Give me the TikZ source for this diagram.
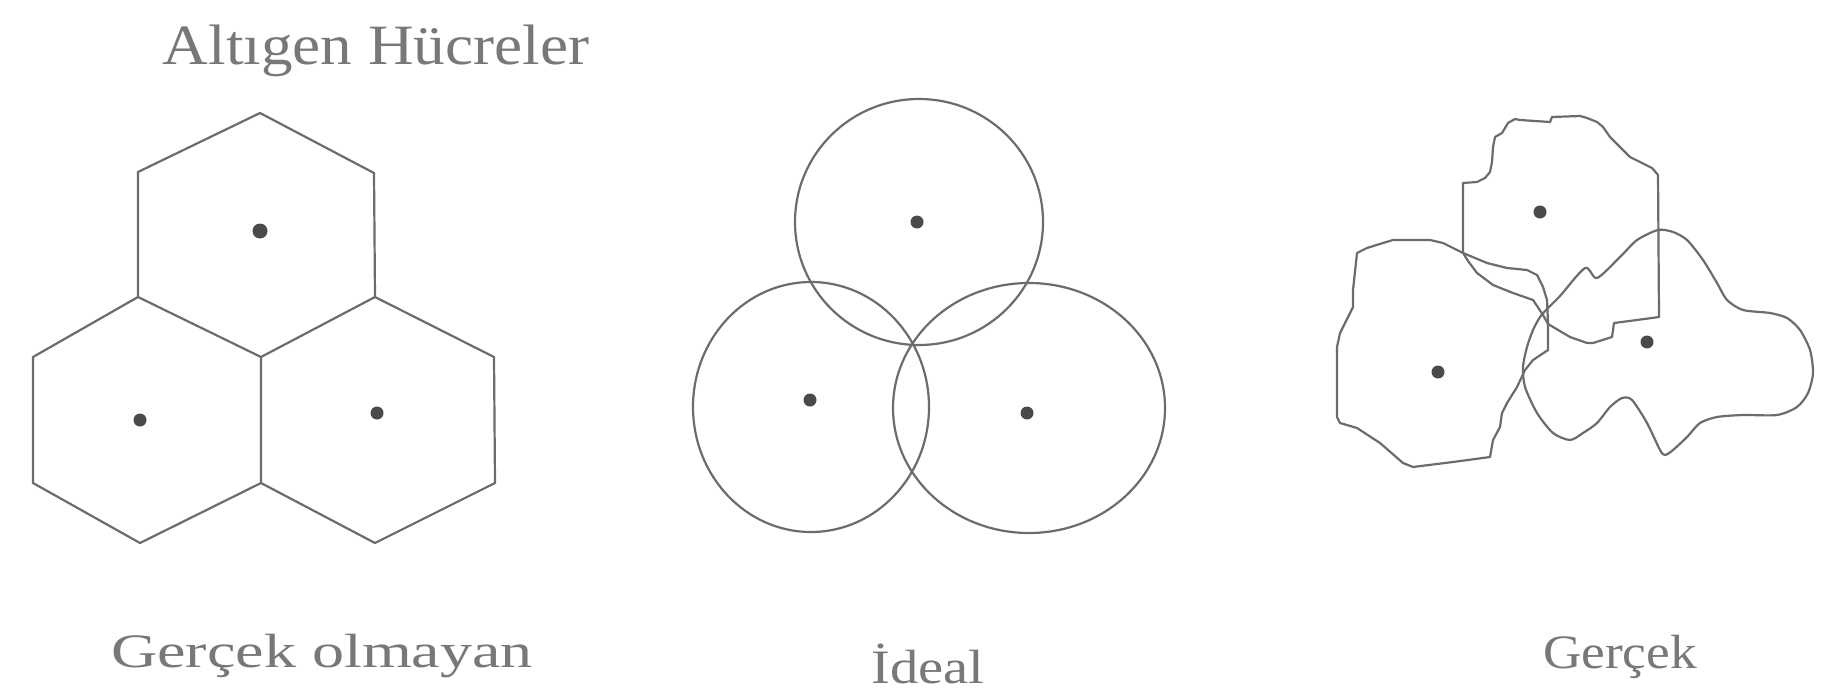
\documentclass[tikz,border=0pt]{standalone}
\usepackage{graphicx}
\usepackage{fontspec}
\setmainfont{Liberation Serif}
\definecolor{linegray}{HTML}{6C6C6C}
\definecolor{dotgray}{HTML}{4A4A4A}
\definecolor{textgray}{HTML}{787876}
\begin{document}
\begin{tikzpicture}[x=1pt,y=-1pt,
  cell/.style={draw=linegray,line width=2.2pt,line join=round},
  dot/.style={circle,fill=dotgray,inner sep=0pt,minimum size=13pt},
  lbl/.style={anchor=base,inner sep=0pt,text=textgray},
  bigfont/.style={font=\fontsize{57}{60}\selectfont},
  smallfont/.style={font=\fontsize{48}{50}\selectfont}]
\fill[white] (0,0) rectangle (1835,693);
\useasboundingbox (0,0) rectangle (1835,693);

% ---- title ----
\node[lbl,bigfont] (title) at (376,65) {\resizebox{426pt}{\height}{Altıgen Hücreler}};

% ---- hexagons ----
\coordinate (t1) at (260,113);
\coordinate (t2) at (138,172);
\coordinate (t3) at (374,173);
\coordinate (t4) at (138,297);
\coordinate (t5) at (375,297);
\coordinate (t6) at (261,357);
\coordinate (ha) at (33,357);
\coordinate (hb) at (33,483);
\coordinate (hc) at (140,543);
\coordinate (hd) at (261,483);
\coordinate (he) at (494,357);
\coordinate (hf) at (495,483);
\coordinate (hg) at (375,543);
\draw[cell] (t1) -- (t3) -- (t5) -- (t6) -- (t4) -- (t2) -- cycle;
\draw[cell] (t4) -- (ha) -- (hb) -- (hc) -- (hd) -- (t6);
\draw[cell] (t5) -- (he) -- (hf) -- (hg) -- (hd);
\node[dot,minimum size=15pt] (hx1) at (260,231) {};
\node[dot] (hx2) at (140,420) {};
\node[dot] (hx3) at (377,413) {};

% ---- ideal circles ----
\draw[cell] (919,222) ellipse [x radius=124pt, y radius=123pt];
\draw[cell] (811,407) ellipse [x radius=118pt, y radius=125pt];
\draw[cell] (1029,408) ellipse [x radius=136pt, y radius=125pt];
\node[dot] (c1) at (917,222) {};
\node[dot] (c2) at (810,400) {};
\node[dot] (c3) at (1027,413) {};

% ---- real cells ----
% top cell
\draw[cell] (1463,183) -- (1477,182) -- (1485,178) -- (1490,172) -- (1492,162)
  -- (1493,147) -- (1495,137) -- (1502,133) -- (1505,128) -- (1508,123)
  -- (1515,119) -- (1520,120) -- (1550,122) -- (1552,117) -- (1580,116)
  -- (1587,118) -- (1597,122) -- (1603,127) -- (1610,137) -- (1620,147)
  -- (1630,157) -- (1640,162) -- (1652,168) -- (1658,175) -- (1659,317)
  -- (1637,320) -- (1614,323) -- (1612,337) -- (1593,343) -- (1587,343)
  -- (1570,337) -- (1548,324) -- (1543,315) -- (1533,300) -- (1513,293)
  -- (1493,285) -- (1477,273) -- (1468,261) -- (1463,253) -- cycle;
% left cell
\draw[cell] (1357,253) -- (1367,248) -- (1383,243) -- (1393,240) -- (1430,240)
  -- (1443,243) -- (1463,253) -- (1487,263) -- (1507,268) -- (1527,270)
  -- (1537,275) -- (1543,287) -- (1547,300) -- (1548,323) -- (1548,350)
  -- (1533,360) -- (1525,370) -- (1517,387) -- (1507,403) -- (1502,413)
  -- (1500,427) -- (1493,440) -- (1490,457) -- (1453,462) -- (1413,467)
  -- (1403,463) -- (1380,443) -- (1357,428) -- (1340,423) -- (1337,417)
  -- (1337,347) -- (1340,333) -- (1353,307) -- (1353,290) -- cycle;
% right cell
\draw[cell] plot[smooth cycle,tension=0.45] coordinates {
  (1560,296) (1585,268) (1597,278) (1620,257) (1637,240) (1658,230) (1673,232)
  (1687,240) (1703,260) (1717,283) (1727,300) (1743,310) (1770,313) (1787,318)
  (1800,330) (1810,350) (1813,373) (1808,393) (1797,407) (1777,415) (1743,415)
  (1717,417) (1700,423) (1687,437) (1673,450) (1665,455) (1660,450) (1647,423)
  (1632,400) (1622,398) (1610,407) (1597,423) (1583,433) (1570,440) (1553,433)
  (1537,413) (1525,387) (1523,367) (1527,347) (1533,330) (1540,317) (1547,309)};
\node[dot] (r1) at (1540,212) {};
\node[dot] (r2) at (1438,372) {};
\node[dot] (r3) at (1647,342) {};

% ---- captions ----
\node[lbl,smallfont] (cap1) at (322,667) {\resizebox{422pt}{\height}{Gerçek olmayan}};
\node[lbl,smallfont] (cap2) at (928,683) {\resizebox{113pt}{\height}{İdeal}};
\node[lbl,smallfont] (cap3) at (1620,668) {\resizebox{154pt}{\height}{Gerçek}};
\end{tikzpicture}
\end{document}
